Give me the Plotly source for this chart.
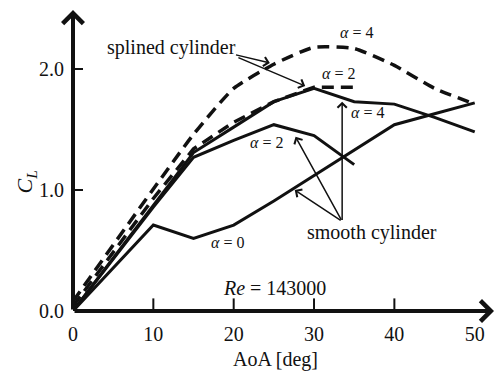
import plotly.graph_objects as go

# ---------------- data ----------------
aoa_spl4 = [0, 15, 20, 25, 30, 35, 40, 45, 50]
cl_spl4 = [0.08, 1.46, 1.84, 2.04, 2.18, 2.17, 2.03, 1.84, 1.71]

aoa_spl2 = [0, 10, 15, 20, 25, 30, 35]
cl_spl2 = [0.04, 0.93, 1.34, 1.56, 1.73, 1.85, 1.85]

aoa_sm4 = [0, 10, 15, 20, 25, 30, 35, 40, 45, 50]
cl_sm4 = [0.0, 0.88, 1.31, 1.52, 1.73, 1.84, 1.73, 1.71, 1.60, 1.48]

aoa_sm2 = [0, 10, 15, 20, 25, 30, 35]
cl_sm2 = [0.0, 0.86, 1.27, 1.41, 1.54, 1.45, 1.21]

aoa_sm0 = [0, 10, 15, 20, 25, 30, 35, 40, 45, 50]
cl_sm0 = [0.0, 0.71, 0.60, 0.71, 0.91, 1.12, 1.33, 1.54, 1.63, 1.72]

x_ticks = [0, 10, 20, 30, 40, 50]
x_inner_ticks = [10, 20, 30, 40]
y_ticks = [0.0, 1.0, 2.0]
y_tick_text = ["0.0", "1.0", "2.0"]

X_MAX = 52.4
Y_MAX = 2.488

FONT = "'Liberation Serif', 'Times New Roman', 'DejaVu Serif', serif"
BLACK = "#111111"

fig = go.Figure()

fig.add_trace(go.Scatter(x=aoa_spl2, y=cl_spl2, mode="lines",
                         line=dict(color=BLACK, width=3.5, dash="12px,7px")))
fig.add_trace(go.Scatter(x=aoa_spl4, y=cl_spl4, mode="lines",
                         line=dict(color=BLACK, width=3.5, dash="12px,7px",
                                   shape="spline", smoothing=0.5)))
for xs, ys in [(aoa_sm4, cl_sm4), (aoa_sm2, cl_sm2), (aoa_sm0, cl_sm0)]:
    fig.add_trace(go.Scatter(x=xs, y=ys, mode="lines",
                             line=dict(color=BLACK, width=3)))

# inward tick marks on the AoA axis (markers centred on the axis; the lower
# half is clipped by the plotting area so only the inside half shows)
fig.add_trace(go.Scatter(x=x_inner_ticks, y=[0] * len(x_inner_ticks),
                         mode="markers", cliponaxis=True, hoverinfo="skip",
                         marker=dict(symbol="line-ns", size=18,
                                     line=dict(color=BLACK, width=2))))

ann = []

def arrow(x, y, ax, ay, width=1.5, head=4, size=1.2):
    ann.append(dict(x=x, y=y, ax=ax, ay=ay, xref="x", yref="y",
                    axref="x", ayref="y", text="", showarrow=True,
                    arrowhead=head, arrowsize=size, arrowwidth=width,
                    arrowcolor=BLACK, standoff=0, startstandoff=0))

def label(x, y, text, size=20):
    ann.append(dict(x=x, y=y, xref="x", yref="y", text=text, showarrow=False,
                    font=dict(family=FONT, size=size, color=BLACK),
                    xanchor="center", yanchor="middle"))

# axes with arrow heads
arrow(X_MAX, 0, 0, 0, width=4, head=4, size=1.0)
arrow(0, Y_MAX, 0, 0, width=4, head=4, size=1.0)

# annotations
label(12.2, 2.18, "splined cylinder")
arrow(24.5, 2.05, 20.1, 2.12)
arrow(28.9, 1.86, 20.4, 2.10)

label(35.3, 2.30, "<i>α</i> = 4", 16)
label(33.0, 1.96, "<i>α</i> = 2", 16)
label(36.6, 1.64, "<i>α</i> = 4", 16)
label(24.1, 1.39, "<i>α</i> = 2", 16)
label(19.2, 0.57, "<i>α</i> = 0", 16)

label(37.2, 0.65, "smooth cylinder")
arrow(33.5, 1.73, 33.5, 0.74)
arrow(27.7, 1.44, 33.5, 0.74)
arrow(27.6, 1.00, 33.5, 0.74)

label(25.1, 0.19, "<i>Re</i> = 143000")

# axis titles (paper coordinates)
ann.append(dict(x=-0.112, y=0.43, xref="paper", yref="paper",
                xanchor="center", yanchor="middle",
                text="<i>C</i><sub><i>L</i></sub>",
                showarrow=False, textangle=-90,
                font=dict(family=FONT, size=22, color=BLACK)))
ann.append(dict(x=0.48, y=-0.16, xref="paper", yref="paper",
                xanchor="center", yanchor="middle", text="AoA [deg]",
                showarrow=False, font=dict(family=FONT, size=20, color=BLACK)))

fig.update_layout(
    width=496, height=371,
    margin=dict(l=73, r=2, t=10, b=60),
    paper_bgcolor="white", plot_bgcolor="white",
    showlegend=False,
    annotations=ann,
    xaxis=dict(range=[0, X_MAX], tickvals=x_ticks, ticks="outside", ticklen=0,
               tickwidth=0, tickcolor="white",
               showgrid=False, zeroline=False, showline=False,
               ticklabelstandoff=5,
               tickfont=dict(family=FONT, size=20, color=BLACK)),
    yaxis=dict(range=[0, Y_MAX], tickvals=y_ticks, ticktext=y_tick_text,
               ticks="inside", ticklen=10, tickwidth=2, tickcolor=BLACK,
               showgrid=False, zeroline=False, showline=False,
               ticklabelstandoff=8,
               tickfont=dict(family=FONT, size=20, color=BLACK)),
)

fig.write_html("out.html")
